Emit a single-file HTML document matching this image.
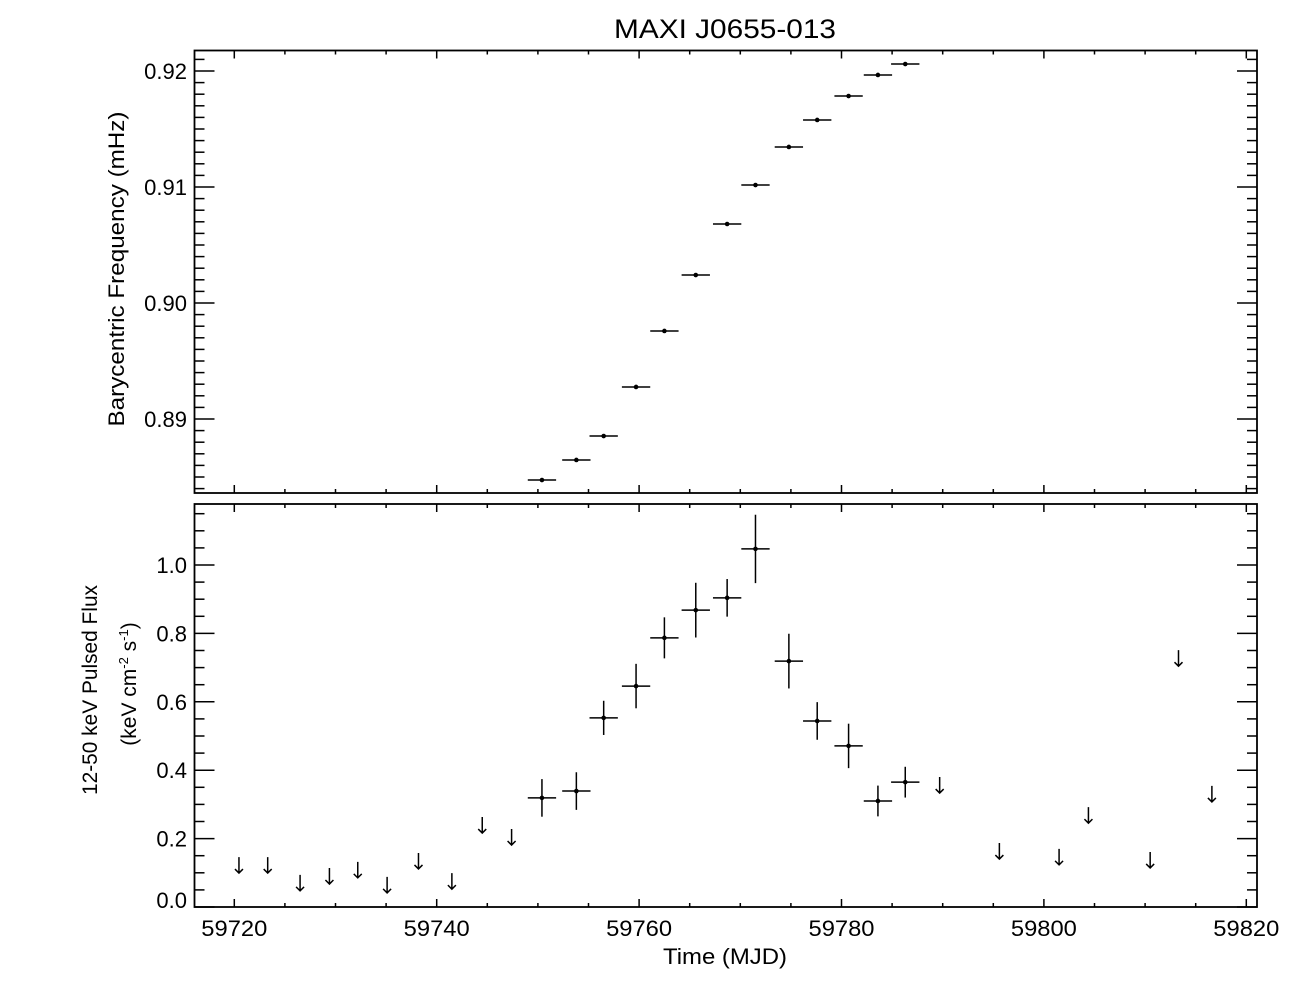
<!DOCTYPE html>
<html><head><meta charset="utf-8"><style>
html,body{margin:0;padding:0;background:#fff;}
svg{display:block;font-family:"Liberation Sans",sans-serif;}
</style></head><body>
<svg id="chart" width="1296" height="1008" viewBox="0 0 1296 1008" xmlns="http://www.w3.org/2000/svg">
<text x="725" y="38" font-size="27" text-anchor="middle" textLength="222" lengthAdjust="spacingAndGlyphs">MAXI J0655-013</text>
<text transform="translate(124,269) rotate(-90)" font-size="22" text-anchor="middle" textLength="315" lengthAdjust="spacingAndGlyphs">Barycentric Frequency (mHz)</text>
<text transform="translate(97,690) rotate(-90)" font-size="21" text-anchor="middle" textLength="210" lengthAdjust="spacingAndGlyphs">12-50 keV Pulsed Flux</text>
<text transform="translate(136,684) rotate(-90)" font-size="21" text-anchor="middle">(keV cm<tspan dy="-8" font-size="13">-2</tspan><tspan dy="8"> s</tspan><tspan dy="-8" font-size="13">-1</tspan><tspan dy="8">)</tspan></text>
<text x="725" y="964" font-size="22" text-anchor="middle" textLength="124" lengthAdjust="spacingAndGlyphs">Time (MJD)</text>
<g id="g"></g>
</svg>
<script>
const freqDays=[59750.4,59753.8,59756.5,59759.7,59762.5,59765.6,59768.7,59771.5,59774.8,59777.6,59780.7,59783.6,59786.3];
const freqValues=[0.88474,0.88647,0.88853,0.89276,0.89759,0.90241,0.90681,0.91017,0.91345,0.91578,0.91784,0.91966,0.92060];
const binHalfWidth=[1.4,1.4,1.4,1.4,1.4,1.4,1.4,1.4,1.4,1.4,1.4,1.4,1.4];
const fluxValues=[0.319,0.339,0.553,0.646,0.787,0.868,0.904,1.047,0.719,0.544,0.471,0.310,0.365];
const fluxErrors=[0.055,0.055,0.05,0.065,0.06,0.08,0.055,0.1,0.08,0.055,0.065,0.045,0.045];
const ulDays=[59720.46,59723.3,59726.5,59729.4,59732.2,59735.1,59738.2,59741.5,59744.5,59747.4,59789.7,59795.6,59801.5,59804.4,59810.5,59813.3,59816.6];
const ulValues=[0.146,0.146,0.094,0.114,0.132,0.088,0.158,0.099,0.263,0.228,0.380,0.187,0.170,0.292,0.161,0.751,0.354];
const xTicks=[59720,59740,59760,59780,59800,59820];
const freqTicks=[0.89,0.90,0.91,0.92];
const fluxTicks=[0.0,0.2,0.4,0.6,0.8,1.0];

const NS="http://www.w3.org/2000/svg";
const g=document.getElementById('g');
const L=194.5,R=1257;
const X=d=>234.3+(d-59720)*10.12;
const T1=50.5,B1=493;
const Yf=v=>71+(0.92-v)*11600;
const T2=504,B2=907;
const Yp=v=>907-v*342;
function mk(tag,at){const e=document.createElementNS(NS,tag);for(const k in at)e.setAttribute(k,at[k]);g.appendChild(e);return e;}
function line(x1,y1,x2,y2,w){return mk('line',{x1,y1,x2,y2,stroke:'#000','stroke-width':w||1.5});}

const f1=mk('rect',{x:L,y:T1,width:R-L,height:B1-T1,fill:'none',stroke:'#000','stroke-width':1.8});


const f2=mk('rect',{x:L,y:T2,width:R-L,height:B2-T2,fill:'none',stroke:'#000','stroke-width':1.8});



for(let d=59720;d<=59820;d+=5){
  const x=X(d);const maj=(d%20===0);const len=maj?8:4;
  line(x,T1,x,T1+len);line(x,B1,x,B1-len);line(x,T2,x,T2+len);line(x,B2,x,B2-len);
}
xTicks.forEach(d=>{
  const t=mk('text',{x:X(d),y:936,'font-size':22,'text-anchor':'middle',textLength:66,lengthAdjust:'spacingAndGlyphs'});t.textContent=d;
  
  
});
for(let i=884;i<=921;i++){
  const v=i/1000;const y=Yf(v);if(y<T1||y>B1)continue;const maj=(i%10===0);const len=maj?20:10;
  line(L,y,L+len,y);line(R,y,R-len,y);
}
freqTicks.forEach(v=>{
  const t=mk('text',{x:187,y:Yf(v)+8,'font-size':22,'text-anchor':'end'});t.textContent=v.toFixed(2);
  
  
});
for(let i=0;i<=23;i++){
  const v=i*0.05;const y=Yp(v);if(y<T2)continue;const maj=(i%4===0);const len=maj?20:10;
  line(L,y,L+len,y);line(R,y,R-len,y);
}
fluxTicks.forEach(v=>{
  const y=v===0?Yp(v)+1:Yp(v)+8;
  const t=mk('text',{x:187,y:y,'font-size':22,'text-anchor':'end'});t.textContent=v.toFixed(1);
  
  
});
freqDays.forEach((d,i)=>{
  const x=X(d),y=Yf(freqValues[i]);
  line(X(d-binHalfWidth[i]),y,X(d+binHalfWidth[i]),y,1.5);
  const c=mk('circle',{cx:x,cy:y,r:2.3,fill:'#000'});
  
  
});
freqDays.forEach((d,i)=>{
  const x=X(d),y=Yp(fluxValues[i]);
  line(X(d-binHalfWidth[i]),y,X(d+binHalfWidth[i]),y,1.5);
  line(x,Yp(fluxValues[i]+fluxErrors[i]),x,Yp(fluxValues[i]-fluxErrors[i]),1.5);
  const c=mk('circle',{cx:x,cy:y,r:2.3,fill:'#000'});
  
  
});
ulDays.forEach((d,i)=>{
  const x=X(d),y=Yp(ulValues[i]);
  const p=mk('path',{d:`M${x},${y} V${y+16} M${x-4},${y+12} L${x},${y+16} L${x+4},${y+12}`,fill:'none',stroke:'#000','stroke-width':1.5});
  
  
});
</script>
</body></html>
